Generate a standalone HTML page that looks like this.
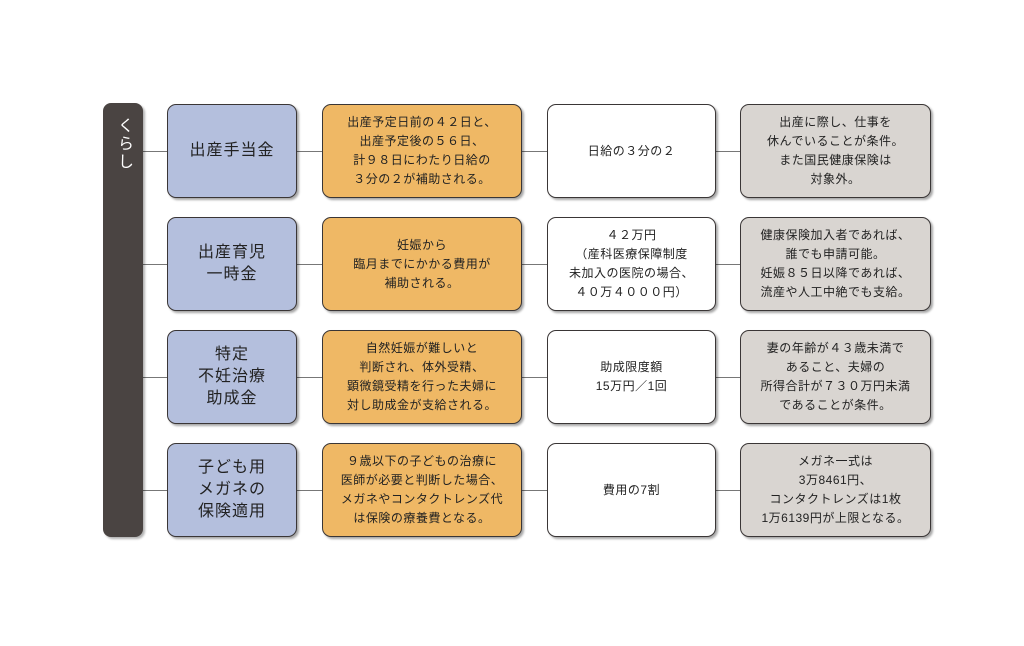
<!DOCTYPE html>
<html><head><meta charset="utf-8"><style>
body{margin:0;width:1024px;height:646px;background:#fff;position:relative;overflow:hidden;font-family:"Liberation Sans","Noto Sans CJK JP",sans-serif;color:#222}
.b{position:absolute;box-sizing:border-box;border:1.5px solid #3a3636;border-radius:9px;display:flex;align-items:center;justify-content:center;text-align:center;box-shadow:2px 2px 2px rgba(0,0,0,.35);font-size:12px;line-height:19px;letter-spacing:.5px}
.c1{left:167px;width:130px;background:#b4bfdd;font-size:16px;line-height:22px;letter-spacing:1px}
.c2{left:322px;width:200px;background:#efb865}
.c3{left:547px;width:169px;background:#fff}
.c4{left:740px;width:191px;background:#d9d5d1}
.l{position:absolute;height:1px;background:#777;left:143px;width:598px}
.bar{position:absolute;left:103px;top:103px;width:40px;height:434px;background:#4a4442;border-radius:8px;box-shadow:2px 2px 2px rgba(0,0,0,.3)}
.bar span{position:absolute;left:0;width:40px;top:14px;color:#fff;font-size:16px;writing-mode:vertical-rl;display:flex;align-items:center;line-height:40px;letter-spacing:2px}
</style></head><body>
<div class="l" style="top:151px"></div><div class="l" style="top:264px"></div><div class="l" style="top:377px"></div><div class="l" style="top:490px"></div>
<div class="bar"><span>くらし</span></div>
<div class="b c1" style="top:104px;height:94px">出産手当金</div>
<div class="b c2" style="top:104px;height:94px">出産予定日前の４２日と、<br>出産予定後の５６日、<br>計９８日にわたり日給の<br>３分の２が補助される。</div>
<div class="b c3" style="top:104px;height:94px">日給の３分の２</div>
<div class="b c4" style="top:104px;height:94px">出産に際し、仕事を<br>休んでいることが条件。<br>また国民健康保険は<br>対象外。</div>
<div class="b c1" style="top:217px;height:94px">出産育児<br>一時金</div>
<div class="b c2" style="top:217px;height:94px">妊娠から<br>臨月までにかかる費用が<br>補助される。</div>
<div class="b c3" style="top:217px;height:94px">４２万円<br>（産科医療保障制度<br>未加入の医院の場合、<br>４０万４０００円）</div>
<div class="b c4" style="top:217px;height:94px">健康保険加入者であれば、<br>誰でも申請可能。<br>妊娠８５日以降であれば、<br>流産や人工中絶でも支給。</div>
<div class="b c1" style="top:330px;height:94px">特定<br>不妊治療<br>助成金</div>
<div class="b c2" style="top:330px;height:94px">自然妊娠が難しいと<br>判断され、体外受精、<br>顕微鏡受精を行った夫婦に<br>対し助成金が支給される。</div>
<div class="b c3" style="top:330px;height:94px">助成限度額<br>15万円／1回</div>
<div class="b c4" style="top:330px;height:94px">妻の年齢が４３歳未満で<br>あること、夫婦の<br>所得合計が７３０万円未満<br>であることが条件。</div>
<div class="b c1" style="top:443px;height:94px">子ども用<br>メガネの<br>保険適用</div>
<div class="b c2" style="top:443px;height:94px">９歳以下の子どもの治療に<br>医師が必要と判断した場合、<br>メガネやコンタクトレンズ代<br>は保険の療養費となる。</div>
<div class="b c3" style="top:443px;height:94px">費用の7割</div>
<div class="b c4" style="top:443px;height:94px">メガネ一式は<br>3万8461円、<br>コンタクトレンズは1枚<br>1万6139円が上限となる。</div>
</body></html>
